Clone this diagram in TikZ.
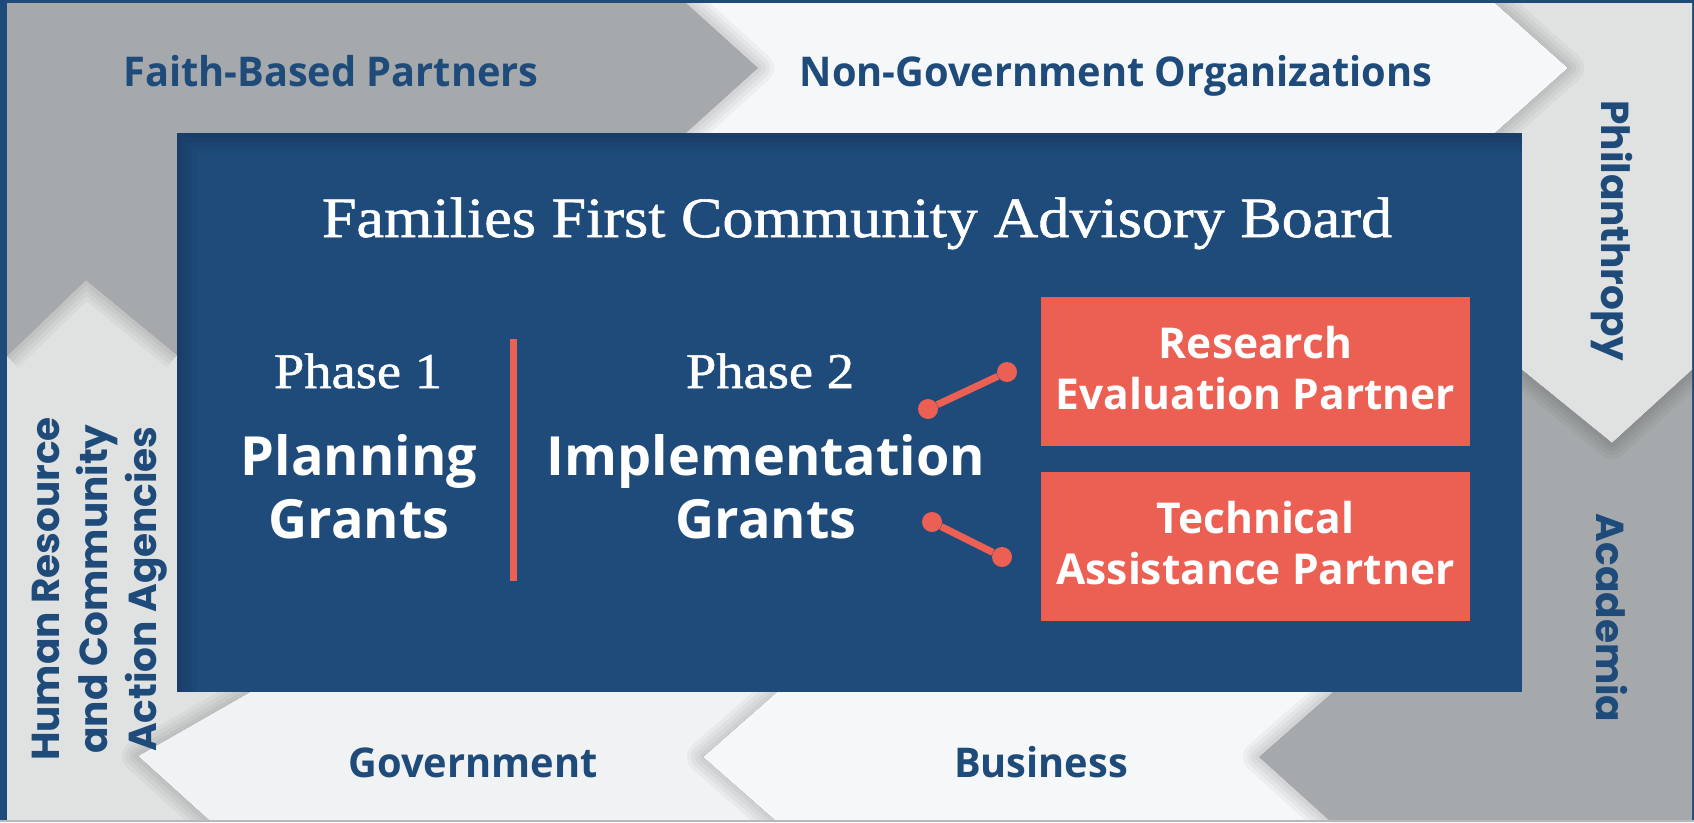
\documentclass[tikz,border=0pt]{standalone}
\usepackage{fontspec}
\setmainfont{Open Sans}[FakeStretch=0.97]
\newfontfamily\grantfont{Open Sans}
\newfontfamily\titlefont{Liberation Serif}[FakeStretch=1.09, FakeBold=1]
\newfontfamily\sidefont{Poppins}
\usetikzlibrary{positioning}

\definecolor{boardblue}{HTML}{1E4B7A}
\definecolor{coral}{HTML}{EC6054}
\definecolor{midgray}{HTML}{A6A9AB}
\definecolor{sidegray}{HTML}{E0E1E1}
\definecolor{palewhite}{HTML}{F6F7F9}
\definecolor{govwhite}{HTML}{F1F2F4}
\definecolor{edgegray}{HTML}{B4B9BE}

\tikzset{
  band/.style={text=boardblue, font=\bfseries\fontsize{41}{48}\selectfont},
  sideband/.style={text=boardblue, align=center, font=\sidefont\bfseries\fontsize{39}{48.5}\selectfont},
  phase/.style={text=white, font=\titlefont\fontsize{50}{56}\selectfont},
  grant/.style={text=white, align=center, font=\grantfont\bfseries\fontsize{54}{63}\selectfont},
  partner/.style={fill=coral, minimum width=429pt, minimum height=149pt, inner sep=0pt, text depth=8pt,
    text=white, align=center, font=\grantfont\bfseries\fontsize{42.5}{51}\selectfont},
  dot/.style={circle, fill=coral, inner sep=0pt, minimum size=20pt},
  link/.style={coral, line width=7pt},
  tipshadow/.style={black, opacity=0.035, line join=round},
}

\begin{document}
\begin{tikzpicture}[x=1pt,y=-1pt]
\useasboundingbox (0,0) rectangle (1694,822);
\fill[boardblue] (0,0) rectangle (1694,822);

% Outer chevron ring
\fill[midgray] (7,3) -- (686,3) -- (758,68) -- (686,133) -- (177,133) -- (177,355) -- (86,280) -- (7,356) -- cycle;
\fill[palewhite] (686,3) -- (1495,3) -- (1568,68) -- (1495,133) -- (686,133) -- (758,68) -- cycle;
\fill[sidegray] (1495,3) -- (1692,3) -- (1692,370) -- (1612,443) -- (1522,370) -- (1522,133) -- (1495,133) -- (1568,68) -- cycle;
\fill[midgray] (1522,370) -- (1612,443) -- (1692,370) -- (1692,822) -- (1331,822) -- (1259,757) -- (1333,692) -- (1522,692) -- cycle;
\fill[palewhite] (777,692) -- (1333,692) -- (1259,757) -- (1331,822) -- (777,822) -- (703,757) -- cycle;
\fill[govwhite] (250,692) -- (777,692) -- (703,757) -- (777,822) -- (211,822) -- (138,756) -- cycle;
\fill[sidegray] (7,356) -- (86,280) -- (177,355) -- (177,692) -- (250,692) -- (138,756) -- (211,822) -- (7,822) -- cycle;

% Soft shadows at the tips
\begin{scope}
\clip (686,3) -- (1495,3) -- (1568,68) -- (1495,133) -- (686,133) -- (758,68) -- cycle;
\foreach \w in {8,16,24,32} \draw[tipshadow, line width=\w pt] (686,3) -- (758,68) -- (686,133);
\end{scope}
\begin{scope}
\clip (1495,3) -- (1692,3) -- (1692,370) -- (1612,443) -- (1522,370) -- (1522,133) -- (1495,133) -- (1568,68) -- cycle;
\foreach \w in {8,16,24,32} \draw[tipshadow, line width=\w pt] (1495,3) -- (1568,68) -- (1495,133);
\end{scope}
\begin{scope}
\clip (1522,370) -- (1612,443) -- (1692,370) -- (1692,822) -- (1522,822) -- cycle;
\foreach \w in {8,16,24,32} \draw[tipshadow, line width=\w pt] (1522,370) -- (1612,443) -- (1692,370);
\end{scope}
\begin{scope}
\clip (777,692) -- (1333,692) -- (1259,757) -- (1331,822) -- (777,822) -- (703,757) -- cycle;
\foreach \w in {8,16,24,32} \draw[tipshadow, line width=\w pt] (1333,692) -- (1259,757) -- (1331,822);
\end{scope}
\begin{scope}
\clip (250,692) -- (777,692) -- (703,757) -- (777,822) -- (211,822) -- (138,756) -- cycle;
\foreach \w in {8,16,24,32} \draw[tipshadow, line width=\w pt] (777,692) -- (703,757) -- (777,822);
\end{scope}
\begin{scope}
\clip (7,356) -- (86,280) -- (177,355) -- (177,692) -- (250,692) -- (138,756) -- (211,822) -- (7,822) -- cycle;
\foreach \w in {8,16,24,32} \draw[tipshadow, line width=\w pt] (7,356) -- (86,280) -- (177,355);
\foreach \w in {8,16,24,32} \draw[tipshadow, line width=\w pt] (250,692) -- (138,756) -- (211,822);
\end{scope}

% Board
\fill[boardblue] (177,133) rectangle (1522,692);
\begin{scope}
\clip (177,133) rectangle (1522,692);
\foreach \w in {10,20,30,40} \draw[tipshadow, line width=\w pt] (177,692) -- (177,133) -- (1522,133);
\end{scope}
\draw[edgegray, line width=2pt] (0,821) -- (1694,821);

% Band labels
\node[band, anchor=base] (faith) at (331,86) {Faith-Based Partners};
\node[band, anchor=base] (ngo) at (1116,86) {Non-Government Organizations};
\node[band, anchor=base] (gov) at (473,777) {Government};
\node[band, anchor=base] (biz) at (1041,777) {Business};
\node[sideband, rotate=-90, anchor=base] (phil) at (1601,231) {Philanthropy};
\node[sideband, rotate=-90, anchor=base] (acad) at (1596,618) {Academia};
\node[sideband, rotate=90] (hr) at (99.5,589) {Human Resource\\and Community\\Action Agencies};

% Board content
\node[anchor=base, text=white, font=\titlefont\fontsize{57}{60}\selectfont] (board) at (857,237) {Families First Community Advisory Board};
\node[phase, anchor=base] (phase1) at (358,388) {Phase 1};
\node[phase, anchor=base] (phase2) at (770,388) {Phase 2};
\node[grant] (planning) at (359,487) {Planning\\Grants};
\node[grant] (implement) at (766,487) {Implementation\\Grants};
\draw[coral, line width=7pt] (513,339) -- (513,581);

% Partners
\node[partner] (research) at (1255.5,371.5) {Research\\Evaluation Partner};
\node[partner, below=26pt of research] (technical) {Technical\\Assistance Partner};
\node[dot] (r1) at (928,409) {};
\node[dot] (r2) at (1007,372) {};
\node[dot] (t1) at (932,522) {};
\node[dot] (t2) at (1002,557) {};
\draw[link] (r1) -- (r2);
\draw[link] (t1) -- (t2);
\end{tikzpicture}
\end{document}
